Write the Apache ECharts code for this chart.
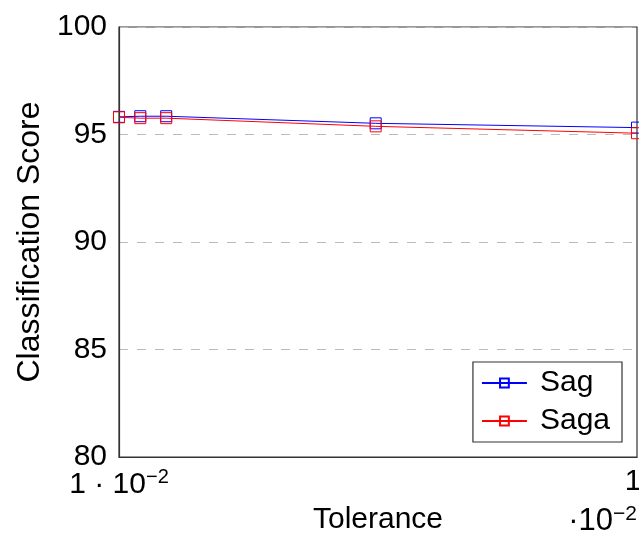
<!DOCTYPE html>
<html><head><meta charset="utf-8">
<script src="https://cdn.jsdelivr.net/npm/echarts@6/dist/echarts.min.js"></script>
<style>html,body{margin:0;padding:0;background:#fff}#c{width:639px;height:535px}</style>
</head><body><div id="c"></div>
<script>
const tolerance = [1, 1.37, 1.82, 5.46, 10];
const sagScores = [95.82, 95.85, 95.85, 95.52, 95.32];
const sagaScores = [95.8, 95.76, 95.76, 95.38, 95.06];
const yTicks = [80, 85, 90, 95, 100];
const FONT = 'Liberation Sans';

const chart = echarts.init(document.getElementById('c'), null, {renderer: 'canvas'});
function pairs(xs, ys) { return xs.map((x, i) => [x, ys[i]]); }
chart.setOption({
  animation: false,
  textStyle: {fontFamily: FONT},
  grid: {left: 119, right: 2, top: 27, bottom: 78, show: true, borderColor: '#333', borderWidth: 1.2, containLabel: false, outerBoundsMode: 'none'},
  xAxis: {
    type: 'value', min: 1, max: 10, interval: 9,
    name: 'Tolerance', nameLocation: 'middle', nameGap: 48,
    nameTextStyle: {fontSize: 30, color: '#000', fontFamily: FONT},
    axisLine: {show: true, lineStyle: {color: '#333', width: 1.2}},
    axisTick: {show: false},
    splitLine: {show: false},
    axisLabel: {
      fontSize: 30, color: '#000', margin: 10, fontFamily: FONT, hideOverlap: false,
      formatter: v => v === 1 ? '{a|1 · 10}{s|−2}' : '{b|10}',
      rich: {
        a: {fontSize: 30, fontFamily: FONT, color: '#000'},
        b: {fontSize: 30, fontFamily: FONT, color: '#000', padding: [0, 0, 0, 9]},
        s: {fontSize: 20, fontFamily: FONT, color: '#000', verticalAlign: 'top', padding: [0, 0, 16, 0]}
      }
    }
  },
  yAxis: {
    type: 'value', min: 80, max: 100, interval: 5,
    name: 'Classification Score', nameLocation: 'middle', nameGap: 72,
    nameTextStyle: {fontSize: 32, color: '#000', fontFamily: FONT},
    axisLine: {show: true, lineStyle: {color: '#333', width: 1.2}},
    axisTick: {show: false},
    axisLabel: {fontSize: 30, color: '#000', margin: 12, fontFamily: FONT, formatter: v => yTicks.includes(v) ? String(v) : ''},
    splitLine: {show: true, lineStyle: {color: '#bbb', type: [9, 9], width: 1}}
  },
  legend: {
    orient: 'vertical', right: 17, top: 362,
    backgroundColor: '#fff', borderColor: '#333', borderWidth: 1.2,
    padding: [6, 12, 6, 8], itemGap: 8, itemWidth: 45, itemHeight: 11,
    textStyle: {fontSize: 30, color: '#000', fontFamily: FONT, padding: [0, 0, 0, 8]},
    data: ['Sag', 'Saga']
  },
  graphic: [{
    type: 'text', right: 2, top: 504,
    style: {text: '{a|·10}{s|−2}', rich: {a: {fontSize: 31, fontFamily: FONT, fill: '#000'}, s: {fontSize: 21, fontFamily: FONT, fill: '#000', verticalAlign: 'top', padding: [0, 0, 14, 0]}}}
  }],
  series: [
    {name: 'Sag', type: 'line', data: pairs(tolerance, sagScores), symbol: 'rect', symbolSize: 11,
     itemStyle: {color: 'rgba(0,0,0,0)', borderColor: '#0000ff', borderWidth: 1}, lineStyle: {color: '#0000ff', width: 1}, z: 2},
    {name: 'Saga', type: 'line', data: pairs(tolerance, sagaScores), symbol: 'rect', symbolSize: 11,
     itemStyle: {color: 'rgba(0,0,0,0)', borderColor: '#ff0000', borderWidth: 1}, lineStyle: {color: '#ff0000', width: 1}, z: 3}
  ]
});
</script></body></html>
